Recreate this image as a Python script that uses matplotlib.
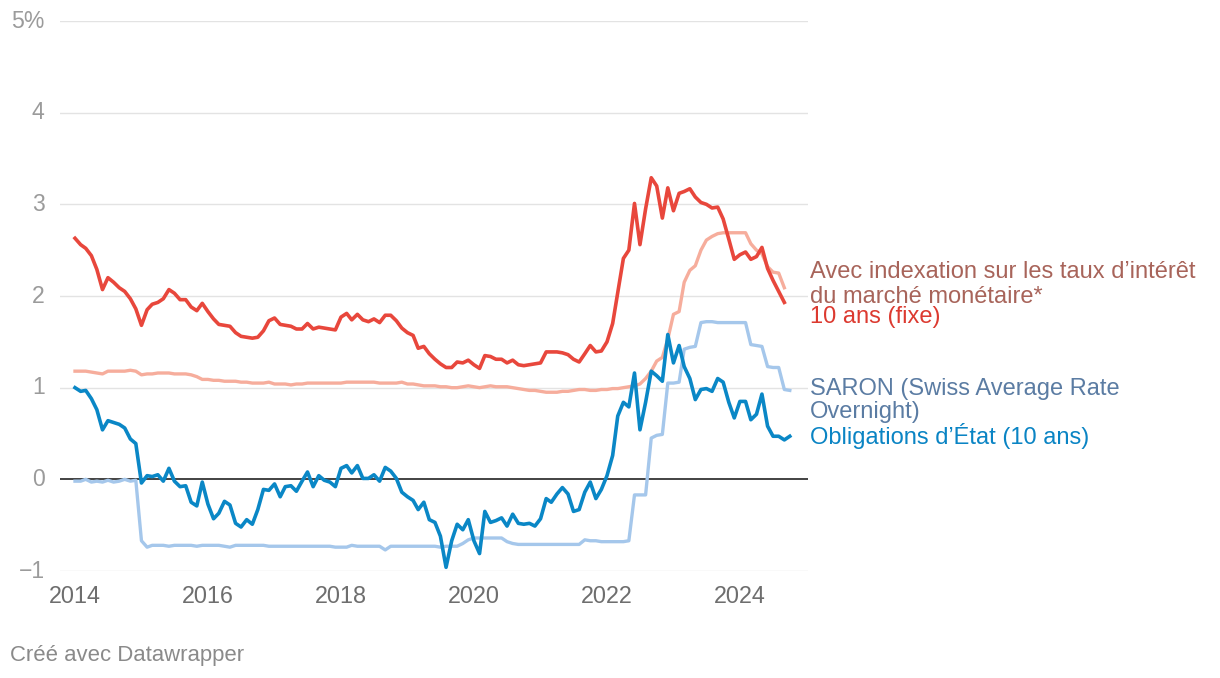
import matplotlib
matplotlib.use("Agg")
import matplotlib.pyplot as plt
import numpy as np
import pandas as pd

plt.rcParams['font.family'] = ['Liberation Sans', 'DejaVu Sans']

# Monthly series starting January 2014 (values in %)
fixed_10y = [
    2.63, 2.56, 2.52, 2.44, 2.29, 2.07, 2.20, 2.15, 2.09, 2.05, 1.97, 1.86,
    1.68, 1.85, 1.91, 1.93, 1.97, 2.07, 2.03, 1.96, 1.96, 1.88, 1.84, 1.92,
    1.83, 1.75, 1.69, 1.68, 1.67, 1.60, 1.56, 1.55, 1.54, 1.55, 1.62, 1.73,
    1.76, 1.69, 1.68, 1.67, 1.64, 1.64, 1.70, 1.64, 1.66, 1.65, 1.64, 1.63,
    1.77, 1.81, 1.74, 1.80, 1.74, 1.72, 1.75, 1.71, 1.79, 1.79, 1.73, 1.65,
    1.60, 1.57, 1.43, 1.45, 1.37, 1.31, 1.26, 1.22, 1.22, 1.28, 1.27, 1.30,
    1.25, 1.21, 1.35, 1.34, 1.31, 1.31, 1.27, 1.30, 1.25, 1.24, 1.25, 1.26,
    1.27, 1.39, 1.39, 1.39, 1.38, 1.36, 1.31, 1.28, 1.37, 1.46, 1.39, 1.40,
    1.50, 1.70, 2.04, 2.41, 2.50, 3.01, 2.56, 2.95, 3.29, 3.20, 2.85, 3.18,
    2.93, 3.12, 3.14, 3.17, 3.08, 3.02, 3.00, 2.96, 2.97, 2.84, 2.62, 2.40,
    2.45, 2.48, 2.40, 2.43, 2.53, 2.30, 2.17, 2.05, 1.93,
]

money_market = [
    1.18, 1.18, 1.18, 1.17, 1.16, 1.15, 1.18, 1.18, 1.18, 1.18, 1.19, 1.18,
    1.14, 1.15, 1.15, 1.16, 1.16, 1.16, 1.15, 1.15, 1.15, 1.14, 1.12, 1.09,
    1.09, 1.08, 1.08, 1.07, 1.07, 1.07, 1.06, 1.06, 1.05, 1.05, 1.05, 1.06,
    1.04, 1.04, 1.04, 1.03, 1.04, 1.04, 1.05, 1.05, 1.05, 1.05, 1.05, 1.05,
    1.05, 1.06, 1.06, 1.06, 1.06, 1.06, 1.06, 1.05, 1.05, 1.05, 1.05, 1.06,
    1.04, 1.04, 1.03, 1.02, 1.02, 1.02, 1.01, 1.01, 1.00, 1.00, 1.01, 1.02,
    1.01, 1.00, 1.01, 1.02, 1.01, 1.01, 1.01, 1.00, 0.99, 0.98, 0.97, 0.97,
    0.96, 0.95, 0.95, 0.95, 0.96, 0.96, 0.97, 0.98, 0.98, 0.97, 0.97, 0.98,
    0.98, 0.99, 0.99, 1.00, 1.01, 1.02, 1.04, 1.10, 1.18, 1.29, 1.33, 1.53,
    1.80, 1.83, 2.15, 2.28, 2.33, 2.50, 2.61, 2.65, 2.68, 2.69, 2.69, 2.69,
    2.69, 2.69, 2.57, 2.50, 2.46, 2.32, 2.26, 2.25, 2.09,
]

saron = [
    -0.02, -0.02, 0.00, -0.03, -0.02, -0.03, -0.01, -0.03, -0.02, 0.00, -0.02, -0.01,
    -0.67, -0.74, -0.72, -0.72, -0.72, -0.73, -0.72, -0.72, -0.72, -0.72, -0.73, -0.72,
    -0.72, -0.72, -0.72, -0.73, -0.74, -0.72, -0.72, -0.72, -0.72, -0.72, -0.72, -0.73,
    -0.73, -0.73, -0.73, -0.73, -0.73, -0.73, -0.73, -0.73, -0.73, -0.73, -0.73, -0.74,
    -0.74, -0.74, -0.72, -0.73, -0.73, -0.73, -0.73, -0.73, -0.77, -0.73, -0.73, -0.73,
    -0.73, -0.73, -0.73, -0.73, -0.73, -0.73, -0.74, -0.73, -0.73, -0.73, -0.70, -0.66,
    -0.64, -0.64, -0.64, -0.64, -0.64, -0.64, -0.68, -0.70, -0.71, -0.71, -0.71, -0.71,
    -0.71, -0.71, -0.71, -0.71, -0.71, -0.71, -0.71, -0.71, -0.66, -0.67, -0.67, -0.68,
    -0.68, -0.68, -0.68, -0.68, -0.67, -0.17, -0.17, -0.17, 0.45, 0.48, 0.49, 1.05,
    1.05, 1.06, 1.42, 1.44, 1.45, 1.71, 1.72, 1.72, 1.71, 1.71, 1.71, 1.71,
    1.71, 1.71, 1.47, 1.46, 1.45, 1.23, 1.22, 1.22, 0.98, 0.97,
]

gov_bonds = [
    1.00, 0.96, 0.97, 0.88, 0.76, 0.54, 0.64, 0.62, 0.60, 0.56, 0.44, 0.39,
    -0.04, 0.04, 0.03, 0.05, -0.02, 0.12, -0.02, -0.08, -0.07, -0.25, -0.29, -0.03,
    -0.27, -0.43, -0.37, -0.24, -0.28, -0.48, -0.52, -0.44, -0.49, -0.33, -0.11, -0.12,
    -0.05, -0.19, -0.08, -0.07, -0.13, -0.02, 0.08, -0.08, 0.04, -0.01, -0.03, -0.08,
    0.12, 0.15, 0.07, 0.15, 0.01, 0.01, 0.05, -0.02, 0.13, 0.09, 0.01, -0.14,
    -0.19, -0.23, -0.33, -0.25, -0.44, -0.47, -0.62, -0.96, -0.67, -0.49, -0.55, -0.44,
    -0.67, -0.81, -0.35, -0.47, -0.45, -0.42, -0.51, -0.38, -0.48, -0.49, -0.48, -0.51,
    -0.43, -0.21, -0.25, -0.16, -0.09, -0.16, -0.35, -0.33, -0.14, -0.03, -0.21, -0.11,
    0.04, 0.26, 0.69, 0.84, 0.79, 1.16, 0.54, 0.84, 1.18, 1.13, 1.07, 1.58,
    1.27, 1.46, 1.23, 1.10, 0.87, 0.98, 0.99, 0.96, 1.10, 1.06, 0.84, 0.67,
    0.85, 0.85, 0.65, 0.71, 0.93, 0.58, 0.47, 0.47, 0.43, 0.47,
]

y_ticks = [-1, 0, 1, 2, 3, 4, 5]
y_tick_labels = ["\u22121", "0", "1", "2", "3", "4", "5%"]
x_tick_years = [2014, 2016, 2018, 2020, 2022, 2024]

label_money = ["Avec indexation sur les taux d\u2019int\u00e9r\u00eat", "du march\u00e9 mon\u00e9taire*"]
label_fixed = ["10 ans (fixe)"]
label_saron = ["SARON (Swiss Average Rate", "Overnight)"]
label_bonds = ["Obligations d\u2019\u00c9tat (10 ans)"]
credit = "Cr\u00e9\u00e9 avec Datawrapper"

def months(n):
    return pd.date_range("2014-01-01", periods=n, freq="MS")

W, H = 1220, 678
fig = plt.figure(figsize=(W / 100, H / 100), dpi=100)
left, right, top, bottom = 60, 808, 21, 571
ax = fig.add_axes([left / W, 1 - bottom / H, (right - left) / W, (bottom - top) / H])

c_red = "#e8473c"
c_pink = "#f6ad9c"
c_blue = "#0a87c6"
c_lblue = "#a5c7eb"

ax.plot(months(len(saron)), saron, color=c_lblue, lw=2.4, solid_joinstyle="round", zorder=3)
ax.plot(months(len(money_market)), money_market, color=c_pink, lw=2.4, solid_joinstyle="round", zorder=3)
ax.plot(months(len(gov_bonds)), gov_bonds, color=c_blue, lw=2.6, solid_joinstyle="round", zorder=4)
ax.plot(months(len(fixed_10y)), fixed_10y, color=c_red, lw=2.6, solid_joinstyle="round", zorder=4)

for yv in y_ticks:
    if yv == 0:
        ax.axhline(yv, color="#222222", lw=1.2, zorder=2)
    else:
        ax.axhline(yv, color="#e3e3e3", lw=1.0, zorder=1)

x0 = pd.Timestamp("2014-01-01")
day_per_px = 365.25 / 66.5
ax.set_xlim(x0 - pd.Timedelta(days=15 * day_per_px), x0 + pd.Timedelta(days=(right - 75) * day_per_px))
ax.set_ylim(-1, 5)

ax.set_yticks(y_ticks)
ax.set_yticklabels(y_tick_labels)
ax.set_xticks([pd.Timestamp(f"{y}-01-01") for y in x_tick_years])
ax.set_xticklabels([str(y) for y in x_tick_years])
ax.tick_params(axis="y", length=0, pad=11, labelsize=16.6, labelcolor="#9b9b9b")
ax.tick_params(axis="x", length=0, pad=10, labelsize=16.8, labelcolor="#6e6e6e")
for lab in ax.get_yticklabels():
    lab.set_verticalalignment("center")
for s in ax.spines.values():
    s.set_visible(False)
ax.set_facecolor("none")

def ftext(px, py, lines, color, step):
    for i, s in enumerate(lines):
        fig.text(px / W, 1 - (py + i * step) / H, s, color=color, fontsize=17.0,
                 va="center", ha="left")

ftext(810, 272, label_money, "#a8645a", 25)
ftext(810, 317, label_fixed, "#dc3a30", 23)
ftext(810, 389, label_saron, "#5b7ca3", 23)
ftext(810, 436, label_bonds, "#0a84c4", 23)

fig.text(10 / W, 1 - 656 / H, credit, color="#8a8a8a", fontsize=15.9, va="center", ha="left")

fig.savefig("out.png", dpi=100)
